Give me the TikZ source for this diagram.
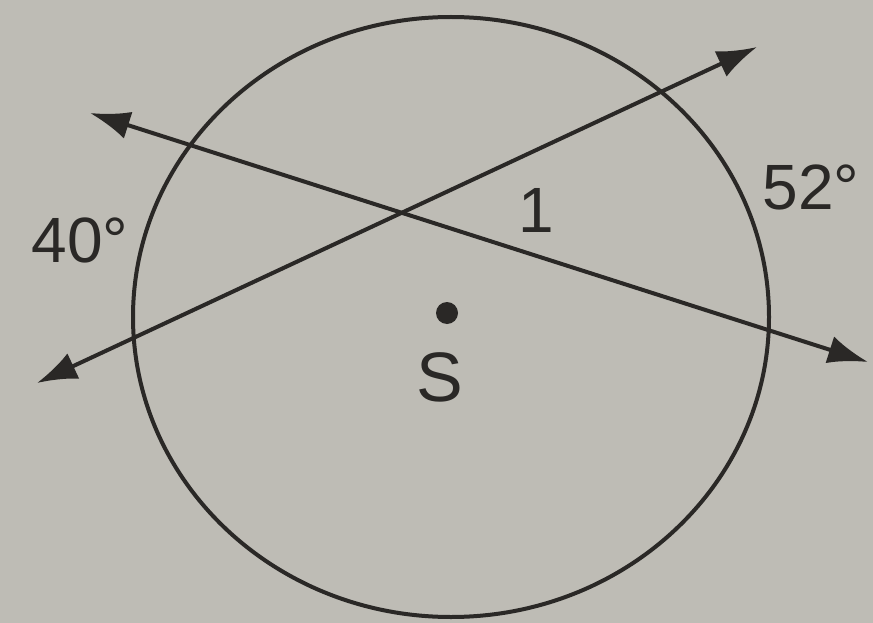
\documentclass[tikz,border=0pt]{standalone}
\usepackage{fontspec}
\setmainfont{Liberation Sans}
\usetikzlibrary{arrows.meta}
\definecolor{paper}{RGB}{190,188,181}
\definecolor{ink}{RGB}{42,40,38}
\tikzset{
  >={Latex[length=40pt,width=28pt]},
  every node/.style={text=ink,inner sep=0pt,font=\fontsize{64}{68}\selectfont},
  rim/.style={draw=ink,line width=4pt},
  secant/.style={<->,draw=ink,line width=4pt},
  ptdot/.style={circle,fill=ink,minimum size=22pt},
}
\begin{document}
\begin{tikzpicture}[x=1pt,y=1pt]

  % ---------------- paper
  \fill[paper] (0,0) rectangle (873,-623);

  % ---------------- circle and centre
  \coordinate (ctr) at (451,-317);
  \draw[rim] (ctr) ellipse [x radius=318pt, y radius=300pt];
  \node[ptdot] (Sdot) at (447,-313) {};
  \node[font=\fontsize{70}{74}\selectfont] (Slab) at (440,-377) {S};

  % ---------------- secants
  \coordinate (aL) at (90,-113);
  \coordinate (aR) at (868,-362);
  \coordinate (bL) at (37,-383);
  \coordinate (bR) at (757,-47);
  \draw[secant] (aL) -- (aR);
  \draw[secant] (bL) -- (bR);

  % ---------------- labels
  \node (arcL) at (80,-240) {40°};
  \node (arcR) at (811,-187) {52°};
  \node (ang1) at (536,-210) {1};
\end{tikzpicture}
\end{document}
